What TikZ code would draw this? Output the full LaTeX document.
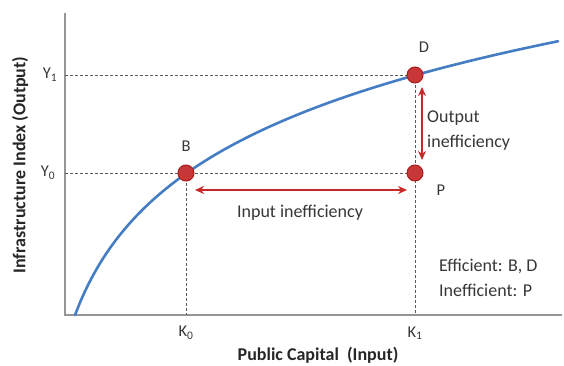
\documentclass[tikz,border=0pt]{standalone}
\usepackage{fontspec}
\setmainfont{Carlito}
\usetikzlibrary{arrows.meta}
\definecolor{curveblue}{RGB}{68,125,196}
\definecolor{ptred}{RGB}{200,55,55}
\definecolor{ptedge}{RGB}{170,30,30}
\definecolor{arrred}{RGB}{200,40,40}
\definecolor{axisgray}{RGB}{150,150,150}
\definecolor{txt}{RGB}{55,55,55}
\tikzset{
  axisline/.style={draw=axisgray, line width=1.4pt},
  guide/.style={draw=black!65, dashed, dash pattern=on 3pt off 2pt, line width=1pt},
  pt/.style={circle, fill=ptred, draw=ptedge, line width=1pt, minimum size=16pt, inner sep=0pt},
  ineff/.style={draw=arrred, line width=1.6pt, {Stealth[length=9pt,width=8pt]}-{Stealth[length=9pt,width=8pt]}},
  lbl/.style={font=\fontsize{18}{25}\selectfont, text=txt, inner sep=1pt},
  ptlbl/.style={font=\fontsize{16.5}{20}\selectfont, text=txt, inner sep=1pt},
  axlbl/.style={font=\bfseries\fontsize{18}{22}\selectfont, text=black!85, inner sep=1pt},
}
\begin{document}
\begin{tikzpicture}[x=1pt,y=1pt]
\useasboundingbox (0,0) rectangle (564,365);
% axes
\coordinate (O) at (65,50);
\coordinate (ytop) at (65,352);
\coordinate (xend) at (562,50);
\draw[axisline] (ytop) -- (O) -- (xend);
% points
\coordinate (Bc) at (186,192);
\coordinate (Dc) at (415,290);
\coordinate (Pc) at (415,192);
\coordinate (Y1a) at (65,290);
\coordinate (Y0a) at (65,192);
\coordinate (K0a) at (186,50);
\coordinate (K1a) at (415,50);
% guides
\draw[guide] (Y1a) -- (Dc);
\draw[guide] (Y0a) -- (Pc);
\draw[guide] (Bc) -- (K0a);
\draw[guide] (Dc) -- (K1a);
% curve
\draw[curveblue, line width=2.6pt, line cap=round] plot[domain=75:558, samples=80, smooth] (\x, {-342.9 + 106.5*ln(\x-35)});
% point markers
\node[pt] (B) at (Bc) {};
\node[pt] (D) at (Dc) {};
\node[pt] (P) at (Pc) {};
% arrows
\coordinate (inL) at (195,175);
\coordinate (inR) at (407,175);
\draw[ineff] (inL) -- (inR);
\coordinate (outT) at (422,278);
\coordinate (outB) at (422,205);
\draw[ineff] (outT) -- (outB);
% labels
\node[ptlbl] (lB) at (186,219) {B};
\node[ptlbl] (lD) at (424,318) {D};
\node[ptlbl] (lP) at (441,175) {P};
\node[ptlbl] (lY1) at (50,290) {Y\textsubscript{1}};
\node[ptlbl] (lY0) at (48,192) {Y\textsubscript{0}};
\node[ptlbl] (lK0) at (186,32) {K\textsubscript{0}};
\node[ptlbl] (lK1) at (415,32) {K\textsubscript{1}};
\node[lbl] (lin) at (300,152) {Input inefficiency};
\node[lbl, anchor=west, align=left] (lout) at (426,234) {Output\\inefficiency};
\node[lbl, anchor=west, align=left] (leg) at (438,87) {Efficient: B, D\\Inefficient: P};
\node[axlbl] (xl) at (318,10) {Public Capital\ \ (Input)};
\node[axlbl, rotate=90] (yl) at (20,200) {Infrastructure Index (Output)};
\end{tikzpicture}
\end{document}
